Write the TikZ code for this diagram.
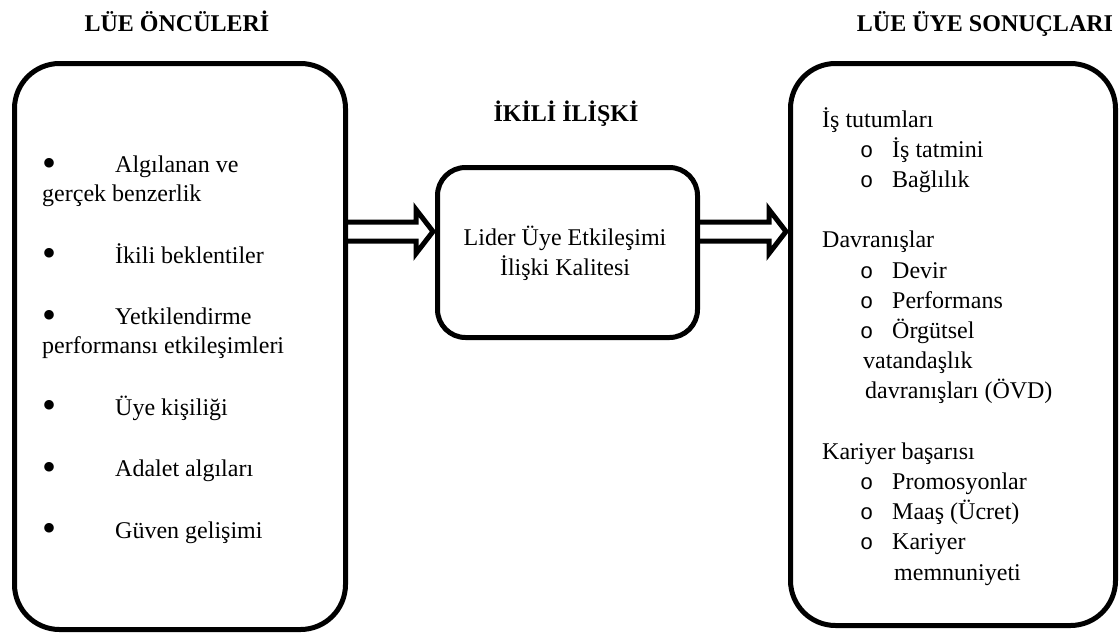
\documentclass[tikz,border=0pt]{standalone}
\usepackage{fontspec}
\setmainfont{Liberation Serif}
\newfontfamily\monof{Liberation Mono}
\usetikzlibrary{calc}
\newcommand\blockarr[2]{%
  \draw[barrow] let \p1=(#1), \p2=(#2) in
    (\x1,\y1+9.5pt) -- (\x2-19pt,\y1+9.5pt) -- (\x2-19pt,\y1+22pt) --
    (\x2-2pt,\y1) -- (\x2-19pt,\y1-22pt) -- (\x2-19pt,\y1-9.5pt) -- (\x1,\y1-9.5pt);}
\newcommand\bigbul{\raisebox{-3.5pt}{•}}
\begin{document}
\begin{tikzpicture}[x=1pt,y=-1pt,
  box/.style={draw,line width=5pt,rounded corners=45pt,inner sep=0pt,anchor=north west},
  mbox/.style={box,rounded corners=28pt},
  txt/.style={anchor=base west,inner sep=0pt,font=\fontsize{24}{29}\selectfont},
  ctxt/.style={anchor=base,inner sep=0pt,font=\fontsize{24}{29}\selectfont},
  ttl/.style={anchor=base,inner sep=0pt,font=\fontsize{24}{29}\selectfont\bfseries},
  bul/.style={anchor=base west,inner sep=0pt,font=\fontsize{40}{29}\selectfont},
  cir/.style={anchor=base west,inner sep=0pt,font=\fontsize{22}{29}\monof},
  barrow/.style={draw,line width=5pt,line join=miter}]
\useasboundingbox (0,0) rectangle (1119,635);

% titles
\node[ttl] (t1) at (177,31) {LÜE ÖNCÜLERİ};
\node[ttl] (t2) at (566,121) {İKİLİ İLİŞKİ};
\node[ttl] (t3) at (985,31) {LÜE ÜYE SONUÇLARI};

% boxes
\node[box,minimum width=331pt,minimum height=566pt] (L) at (12,61) {};
\node[mbox,minimum width=260pt,minimum height=170pt] (M) at (435,165) {};
\node[box,minimum width=325pt,minimum height=562pt] (R) at (788,61) {};

% arrows
\coordinate (a1s) at ($(L.east |- M.west)+(0,-21)$);
\coordinate (a1e) at ($(M.west)+(0,-21)$);
\coordinate (a2s) at ($(M.east)+(0,-21)$);
\coordinate (a2e) at ($(R.west |- M.east)+(0,-21)$);
\blockarr{a1s}{a1e}
\blockarr{a2s}{a2e}

% middle text
\node[ctxt] (m1) at (565,245) {Lider Üye Etkileşimi};
\node[ctxt] (m2) at (565,275) {İlişki Kalitesi};

% left list
\node[bul] (b1) at (42,172.5) {\bigbul};
\node[txt] (l1) at (115,172.5) {Algılanan ve};
\node[txt] (l1b) at (42,201.5) {gerçek benzerlik};
\node[bul] (b2) at (42,263) {\bigbul};
\node[txt] (l2) at (115,263) {İkili beklentiler};
\node[bul] (b3) at (42,324.5) {\bigbul};
\node[txt] (l3) at (115,324.5) {Yetkilendirme};
\node[txt] (l3b) at (42,353.5) {performansı etkileşimleri};
\node[bul] (b4) at (42,415) {\bigbul};
\node[txt] (l4) at (115,415) {Üye kişiliği};
\node[bul] (b5) at (42,476.5) {\bigbul};
\node[txt] (l5) at (115,476.5) {Adalet algıları};
\node[bul] (b6) at (42,538) {\bigbul};
\node[txt] (l6) at (115,538) {Güven gelişimi};

% right list
\node[txt] (r1) at (822,127) {İş tutumları};
\node[cir] (c1) at (860,157.2) {o};
\node[txt] (r2) at (892,157.2) {İş tatmini};
\node[cir] (c2) at (860,187.4) {o};
\node[txt] (r3) at (892,187.4) {Bağlılık};
\node[txt] (r4) at (822,247.8) {Davranışlar};
\node[cir] (c3) at (860,278) {o};
\node[txt] (r5) at (892,278) {Devir};
\node[cir] (c4) at (860,308.2) {o};
\node[txt] (r6) at (892,308.2) {Performans};
\node[cir] (c5) at (860,338.4) {o};
\node[txt] (r7) at (892,338.4) {Örgütsel};
\node[txt] (r7b) at (863,368.6) {vatandaşlık};
\node[txt] (r7c) at (865,398.8) {davranışları (ÖVD)};
\node[txt] (r8) at (822,459.2) {Kariyer başarısı};
\node[cir] (c6) at (860,489.4) {o};
\node[txt] (r9) at (892,489.4) {Promosyonlar};
\node[cir] (c7) at (860,519.6) {o};
\node[txt] (r10) at (892,519.6) {Maaş (Ücret)};
\node[cir] (c8) at (860,549.8) {o};
\node[txt] (r11) at (892,549.8) {Kariyer};
\node[txt] (r11b) at (894,580) {memnuniyeti};
\end{tikzpicture}
\end{document}
